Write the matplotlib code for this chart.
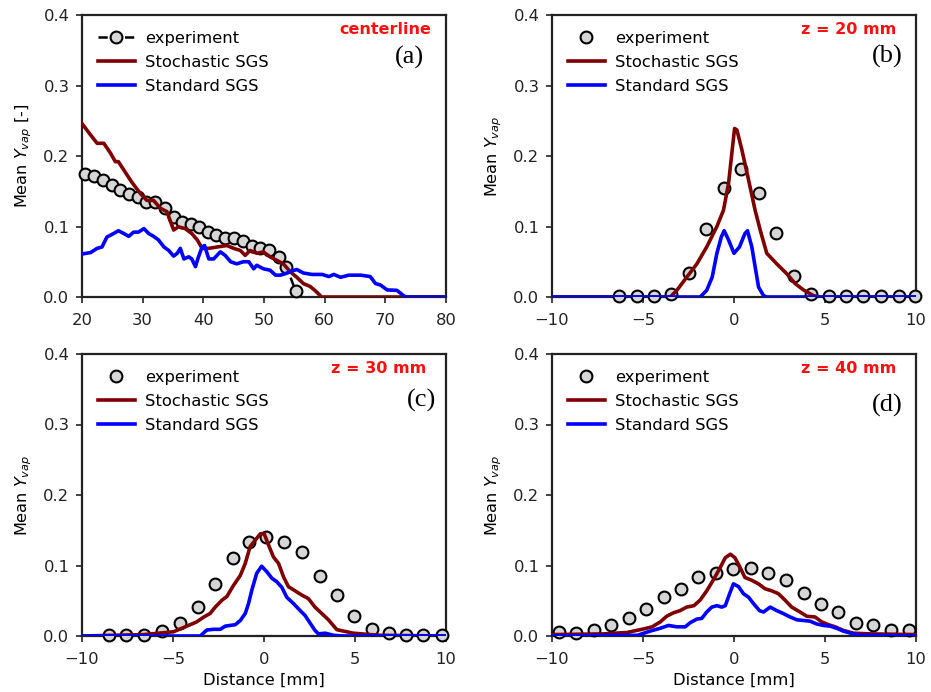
import matplotlib
matplotlib.use("Agg")
import matplotlib.pyplot as plt

# ---------------- data ----------------
# (a) centerline
a_exp_x = [20.5, 22.0, 23.5, 24.9, 26.3, 27.7, 29.2, 30.6, 32.1, 33.6, 35.1, 36.5, 37.9,
           39.3, 40.7, 42.1, 43.6, 45.0, 46.5, 48.0, 49.4, 50.9, 52.4, 53.7, 55.2]
a_exp_y = [0.174, 0.171, 0.166, 0.159, 0.152, 0.146, 0.142, 0.135, 0.135, 0.126, 0.114, 0.107, 0.104,
           0.0995, 0.092, 0.088, 0.084, 0.083, 0.080, 0.072, 0.070, 0.066, 0.057, 0.043, 0.009]
a_sto_x = [20.0, 21.4, 22.5, 23.6, 24.7, 25.5, 26.0, 26.9, 28.2, 29.6, 30.7, 31.8, 32.9, 34.0, 35.1,
           35.9, 37.0, 38.1, 39.0, 39.8, 40.9, 42.3, 43.9, 45.0, 46.1, 46.9, 47.7, 48.8, 49.9, 51.0,
           52.1, 53.2, 54.3, 55.4, 56.5, 57.6, 58.5, 59.5, 65.0, 72.0, 80.0]
a_sto_y = [0.246, 0.230, 0.218, 0.218, 0.204, 0.192, 0.192, 0.180, 0.163, 0.147, 0.137, 0.137, 0.126,
           0.121, 0.095, 0.0995, 0.097, 0.090, 0.081, 0.069, 0.069, 0.071, 0.073, 0.069, 0.066, 0.059,
           0.066, 0.062, 0.064, 0.057, 0.052, 0.047, 0.036, 0.028, 0.019, 0.015, 0.0085, 0.0, 0.0, 0.0, 0.0]
a_std_x = [20.0, 21.4, 22.5, 23.3, 24.1, 25.2, 26.0, 26.9, 27.7, 28.5, 29.3, 30.2, 31.0, 31.8, 32.6,
           33.5, 34.3, 35.1, 35.7, 36.2, 36.8, 37.6, 38.1, 38.7, 39.2, 39.8, 40.2, 40.9, 41.7, 42.8,
           43.6, 44.5, 45.5, 46.6, 47.5, 48.3, 48.8, 49.9, 51.0, 51.9, 52.7, 53.5, 54.3, 55.4, 56.5,
           57.9, 59.6, 60.7, 61.5, 62.6, 64.0, 64.8, 65.9, 67.5, 68.4, 69.2, 70.3, 71.9, 72.7, 73.3, 80.0]
a_std_y = [0.061, 0.063, 0.069, 0.071, 0.085, 0.090, 0.094, 0.090, 0.086, 0.092, 0.092, 0.097, 0.090,
           0.086, 0.081, 0.071, 0.066, 0.058, 0.062, 0.069, 0.054, 0.057, 0.054, 0.043, 0.057, 0.071,
           0.073, 0.054, 0.054, 0.064, 0.059, 0.050, 0.047, 0.050, 0.050, 0.040, 0.045, 0.040, 0.038,
           0.031, 0.031, 0.033, 0.036, 0.039, 0.034, 0.032, 0.032, 0.029, 0.032, 0.028, 0.031, 0.031,
           0.031, 0.029, 0.019, 0.017, 0.010, 0.0095, 0.004, 0.0, 0.0]

# (b) z = 20 mm
b_exp_x = [-6.3, -5.35, -4.4, -3.45, -2.5, -1.55, -0.54, 0.39, 1.36, 2.3, 3.27, 4.25, 5.2, 6.16,
           7.1, 8.08, 9.05, 9.96]
b_exp_y = [0.001, 0.001, 0.001, 0.004, 0.034, 0.097, 0.155, 0.181, 0.147, 0.091, 0.030, 0.004,
           0.001, 0.001, 0.001, 0.001, 0.001, 0.001]
b_sto_x = [-10.0, -3.5, -3.14, -2.6, -2.04, -1.5, -0.94, -0.58, -0.3, 0.03, 0.16, 0.43, 0.8, 1.16,
           1.44, 1.8, 2.35, 2.9, 3.36, 3.82, 4.36, 4.73, 10.0]
b_sto_y = [0.0, 0.0, 0.0095, 0.028, 0.047, 0.071, 0.100, 0.123, 0.161, 0.239, 0.237, 0.209, 0.166,
           0.123, 0.095, 0.062, 0.047, 0.033, 0.019, 0.010, 0.002, 0.0, 0.0]
b_std_x = [-10.0, -1.86, -1.5, -1.2, -0.94, -0.7, -0.54, -0.3, 0.0, 0.3, 0.6, 0.74, 0.98, 1.16,
           1.35, 1.62, 1.8, 10.0]
b_std_y = [0.0, 0.0, 0.0095, 0.028, 0.062, 0.085, 0.094, 0.081, 0.062, 0.071, 0.090, 0.094, 0.071,
           0.043, 0.014, 0.002, 0.0, 0.0]

# (c) z = 30 mm
c_exp_x = [-8.54, -7.57, -6.6, -5.6, -4.64, -3.65, -2.68, -1.73, -0.8, 0.1, 1.09, 2.08, 3.05, 4.0,
           4.97, 5.92, 6.87, 7.8, 8.76, 9.76]
c_exp_y = [0.002, 0.002, 0.002, 0.007, 0.019, 0.041, 0.074, 0.110, 0.134, 0.141, 0.134, 0.119,
           0.085, 0.058, 0.029, 0.010, 0.004, 0.002, 0.002, 0.002]
c_sto_x = [-10.0, -6.6, -4.97, -4.24, -3.7, -3.3, -2.96, -2.68, -2.3, -2.04, -1.67, -1.3, -1.03,
           -0.76, -0.48, -0.2, 0.01, 0.25, 0.52, 0.8, 1.07, 1.34, 1.71, 2.08, 2.44, 2.8, 3.17, 3.54,
           4.0, 4.36, 4.91, 5.83, 6.4, 10.0]
c_sto_y = [0.0, 0.002, 0.006, 0.014, 0.020, 0.027, 0.032, 0.041, 0.051, 0.056, 0.072, 0.086, 0.103,
           0.127, 0.136, 0.145, 0.145, 0.129, 0.112, 0.103, 0.084, 0.070, 0.064, 0.058, 0.053, 0.041,
           0.032, 0.023, 0.009, 0.007, 0.004, 0.002, 0.001, 0.0]
c_std_x = [-10.0, -3.5, -3.14, -2.77, -2.4, -2.13, -1.86, -1.58, -1.3, -1.03, -0.85, -0.67, -0.4,
           -0.13, 0.16, 0.43, 0.7, 0.98, 1.25, 1.62, 1.99, 2.26, 2.54, 2.8, 2.99, 3.36, 3.82, 4.36, 10.0]
c_std_y = [0.0, 0.0, 0.0085, 0.0095, 0.0095, 0.014, 0.015, 0.016, 0.022, 0.032, 0.046, 0.065, 0.089,
           0.099, 0.091, 0.082, 0.077, 0.069, 0.055, 0.046, 0.036, 0.029, 0.018, 0.008, 0.003, 0.004,
           0.001, 0.0, 0.0]

# (d) z = 40 mm
d_exp_x = [-9.63, -8.66, -7.7, -6.74, -5.79, -4.82, -3.87, -2.92, -1.97, -1.0, -0.03, 0.94, 1.89,
           2.86, 3.82, 4.79, 5.74, 6.7, 7.66, 8.63, 9.6]
d_exp_y = [0.005, 0.004, 0.008, 0.015, 0.026, 0.039, 0.055, 0.066, 0.083, 0.090, 0.095, 0.096,
           0.090, 0.080, 0.061, 0.045, 0.034, 0.019, 0.015, 0.008, 0.008]
d_sto_x = [-10.0, -7.16, -5.88, -4.97, -4.5, -4.05, -3.7, -3.32, -2.96, -2.6, -2.2, -1.86, -1.5,
           -1.1, -0.76, -0.48, -0.2, 0.05, 0.34, 0.6, 0.98, 1.34, 1.71, 2.08, 2.44, 2.8, 3.17, 3.63,
           4.0, 4.45, 4.82, 5.19, 5.56, 6.0, 6.56, 7.47, 10.0]
d_sto_y = [0.002, 0.003, 0.005, 0.010, 0.013, 0.020, 0.028, 0.033, 0.036, 0.041, 0.043, 0.051,
           0.064, 0.081, 0.097, 0.111, 0.116, 0.111, 0.097, 0.083, 0.079, 0.074, 0.067, 0.064, 0.060,
           0.051, 0.041, 0.034, 0.028, 0.027, 0.020, 0.016, 0.013, 0.008, 0.004, 0.003, 0.002]
d_std_x = [-10.0, -5.3, -4.6, -4.05, -3.6, -3.14, -2.68, -2.4, -2.04, -1.77, -1.5, -1.22, -0.94,
           -0.67, -0.48, -0.24, -0.03, 0.25, 0.52, 0.8, 1.07, 1.4, 1.62, 1.99, 2.35, 2.7, 3.08, 3.45,
           3.82, 4.18, 4.55, 4.91, 5.28, 5.64, 6.0, 6.4, 6.9, 10.0]
d_std_y = [0.0, 0.001, 0.007, 0.011, 0.015, 0.013, 0.013, 0.019, 0.024, 0.025, 0.034, 0.041, 0.043,
           0.041, 0.043, 0.060, 0.074, 0.070, 0.060, 0.055, 0.046, 0.036, 0.034, 0.041, 0.036, 0.032,
           0.027, 0.023, 0.022, 0.021, 0.017, 0.015, 0.014, 0.011, 0.007, 0.004, 0.001, 0.0]

labels = ["experiment", "Stochastic SGS", "Standard SGS"]
panel_tags = ["centerline", "z = 20 mm", "z = 30 mm", "z = 40 mm"]
panel_letters = ["(a)", "(b)", "(c)", "(d)"]
y_ticks = [0.0, 0.1, 0.2, 0.3, 0.4]

# ---------------- figure ----------------
W, H = 931, 692
fig = plt.figure(figsize=(W / 100, H / 100), dpi=100)

def px_axes(l, t, r, b):
    return fig.add_axes([l / W, 1 - b / H, (r - l) / W, (b - t) / H])

STO_C = "#7f0000"
STD_C = "#0000ff"
FS = 11.8

panels = [
    dict(box=(82, 15, 446, 297), exp=(a_exp_x, a_exp_y), sto=(a_sto_x, a_sto_y), std=(a_std_x, a_std_y),
         xlim=(20, 80), xticks=[20, 30, 40, 50, 60, 70, 80], ylabel=r"Mean $Y_{vap}$ [-]",
         xlabel=None, expline=True, letter_xy=(0.90, 0.851), tag_x=0.96),
    dict(box=(552, 15, 916, 297), exp=(b_exp_x, b_exp_y), sto=(b_sto_x, b_sto_y), std=(b_std_x, b_std_y),
         xlim=(-10, 10), xticks=[-10, -5, 0, 5, 10], ylabel=r"Mean $Y_{vap}$",
         xlabel=None, expline=False, letter_xy=(0.92, 0.852), tag_x=0.945),
    dict(box=(82, 354, 446, 636), exp=(c_exp_x, c_exp_y), sto=(c_sto_x, c_sto_y), std=(c_std_x, c_std_y),
         xlim=(-10, 10), xticks=[-10, -5, 0, 5, 10], ylabel=r"Mean $Y_{vap}$",
         xlabel="Distance [mm]", expline=False, letter_xy=(0.934, 0.834), tag_x=0.945),
    dict(box=(552, 354, 916, 636), exp=(d_exp_x, d_exp_y), sto=(d_sto_x, d_sto_y), std=(d_std_x, d_std_y),
         xlim=(-10, 10), xticks=[-10, -5, 0, 5, 10], ylabel=r"Mean $Y_{vap}$",
         xlabel="Distance [mm]", expline=False, letter_xy=(0.92, 0.816), tag_x=0.945),
]

for i, p in enumerate(panels):
    ax = px_axes(*p["box"])
    ls = "--" if p["expline"] else "none"
    ax.plot(p["exp"][0], p["exp"][1], linestyle=ls, color="black", lw=1.8,
            marker="o", markersize=8.5, markerfacecolor="#d6d6d6", markeredgecolor="black",
            markeredgewidth=1.5, label=labels[0], zorder=3, clip_on=False)
    ax.plot(p["sto"][0], p["sto"][1], color=STO_C, lw=2.6, label=labels[1], zorder=4)
    ax.plot(p["std"][0], p["std"][1], color=STD_C, lw=2.6, label=labels[2], zorder=5)
    ax.set_xlim(*p["xlim"])
    ax.set_ylim(0, 0.4)
    ax.set_xticks(p["xticks"])
    ax.set_yticks(y_ticks)
    ax.set_yticklabels([f"{v:.1f}" for v in y_ticks])
    ax.tick_params(labelsize=FS, width=1.2, length=4, colors="#222222")
    ax.tick_params(axis="x", pad=7.5)
    ax.tick_params(axis="y", pad=5)
    for s in ax.spines.values():
        s.set_linewidth(1.6)
        s.set_color("#222222")
    ax.set_ylabel(p["ylabel"], fontsize=FS - 0.2, labelpad=7)
    if p["xlabel"]:
        ax.set_xlabel(p["xlabel"], fontsize=FS, labelpad=4)
    ax.legend(loc="upper left", frameon=False, fontsize=FS, handlelength=2.3,
              handletextpad=0.6, labelspacing=0.55, borderaxespad=0.55,
              bbox_to_anchor=(0.0, 1.0))
    ax.text(p["tag_x"], 0.947, panel_tags[i], transform=ax.transAxes, ha="right", va="center",
            color="#ff1010", fontsize=FS - 0.3, fontweight="bold")
    ax.text(p["letter_xy"][0], p["letter_xy"][1], panel_letters[i], transform=ax.transAxes,
            ha="center", va="center", fontsize=19, family="Liberation Serif")

fig.savefig("out.png", dpi=100)
